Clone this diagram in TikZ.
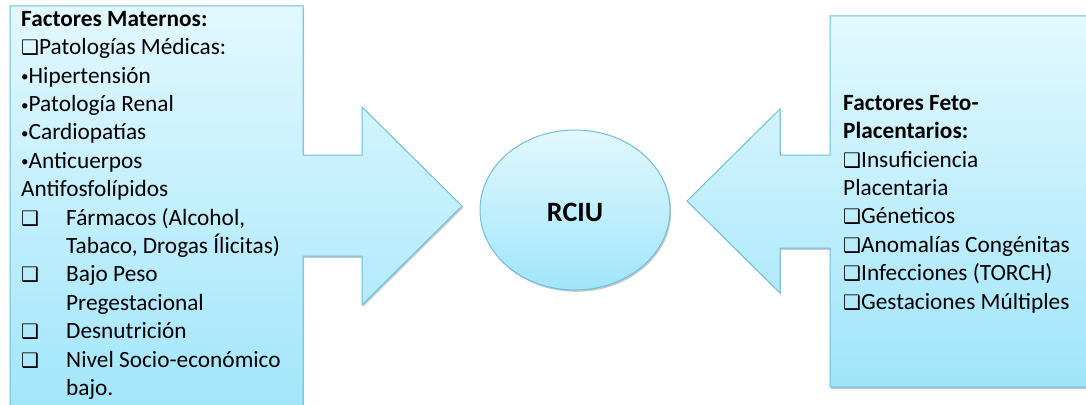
\documentclass[tikz,border=0pt]{standalone}
\usepackage{fontspec}
\setmainfont{Carlito}
\newfontfamily\symf{DejaVu Sans Bold}
\usetikzlibrary{shadows}
\definecolor{topc}{RGB}{226,248,254}
\definecolor{botc}{RGB}{160,229,250}
\definecolor{edgec}{RGB}{108,192,218}
\newcommand\qbox{{\symf\fontsize{20}{20}\selectfont ❑}}
\newcommand\tabq{\makebox[45pt][l]{\qbox}}
\newcommand\dotb{\raisebox{1.5pt}{\fontsize{15}{15}\selectfont •}}
\tikzset{
  shapestyle/.style={draw=edgec, line width=1pt, top color=topc, bottom color=botc,
    drop shadow={shadow xshift=1.2pt, shadow yshift=-1.8pt, opacity=0.3, fill=black!70}},
  txt/.style={font=\fontsize{23.3}{28.4}\selectfont, align=left, inner sep=0pt, anchor=north west},
}
\begin{document}
\begin{tikzpicture}[x=1pt,y=-1pt]
\useasboundingbox (0,0) rectangle (1086,404);
\clip (0,0) rectangle (1086,404);
\fill[white] (0,0) rectangle (1086,404);
% left callout arrow
\path[shapestyle] (10,6) -- (303,6) -- (303,155) -- (362,155) -- (362,107) -- (462,206)
  -- (362,305) -- (362,256) -- (303,256) -- (303,420) -- (10,420) -- cycle;
% right callout arrow
\path[shapestyle] (830,16) -- (1095,16) -- (1095,387) -- (830,387) -- (830,248) -- (780,248)
  -- (780,293) -- (687,201) -- (780,109) -- (780,155) -- (830,155) -- cycle;
% centre ellipse
\path[shapestyle] (575,210) ellipse [x radius=95, y radius=80];
\node[font=\fontsize{28}{34}\selectfont\bfseries, inner sep=0pt] (rciu) at (575,212) {RCIU};
\node[txt] (mat) at (21,11) {\textbf{Factores Maternos:}\\
\qbox Patologías Médicas:\\
\dotb Hipertensión\\
\dotb Patología Renal\\
\dotb Cardiopatías\\
\dotb Anticuerpos\\
Antifosfolípidos\\
\tabq Fármacos (Alcohol,\\
\hspace*{45pt}Tabaco, Drogas Ílicitas)\\
\tabq Bajo Peso\\
\hspace*{45pt}Pregestacional\\
\tabq Desnutrición\\
\tabq Nivel Socio-económico\\
\hspace*{45pt}bajo.};
\node[txt] (fet) at (843,95) {\textbf{Factores Feto-}\\
\textbf{Placentarios:}\\
\qbox Insuficiencia\\
Placentaria\\
\qbox Géneticos\\
\qbox Anomalías Congénitas\\
\qbox Infecciones (TORCH)\\
\qbox Gestaciones Múltiples};
\end{tikzpicture}
\end{document}
